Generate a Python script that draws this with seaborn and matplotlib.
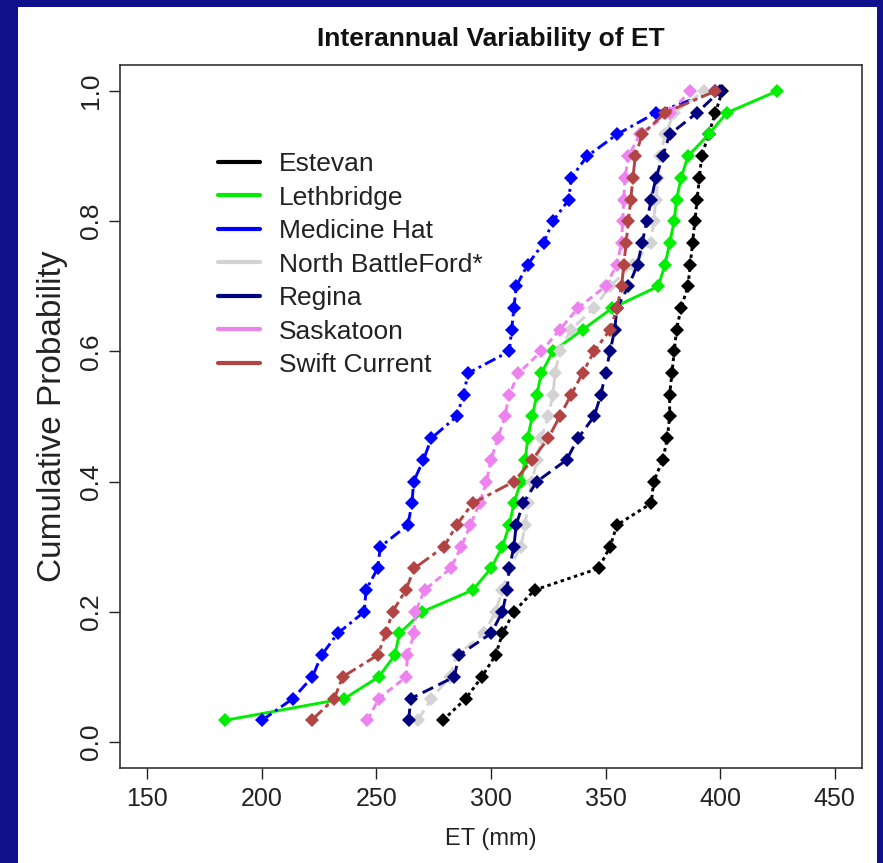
import numpy as np
import pandas as pd
import seaborn as sns
from matplotlib import pyplot as plt
from matplotlib.lines import Line2D
from matplotlib.patches import Rectangle

sns.set_theme(style='ticks')
plt.rcParams['font.family'] = ['Liberation Sans', 'DejaVu Sans']

#%% sorted annual ET (mm) per station, 30 years each
stations = ['Estevan', 'Lethbridge', 'Medicine Hat', 'North BattleFord*',
            'Regina', 'Saskatoon', 'Swift Current']

estevan = [279, 289, 296, 302, 305, 310, 319, 347, 352, 355, 370, 371, 375, 377, 378,
           378, 379, 380, 381, 383, 386, 387, 388, 389, 390, 391, 392, 395, 398, 401]
lethbridge = [184, 236, 251, 258, 260, 270, 292, 300, 305, 308, 310, 313, 315, 316, 318,
              320, 322, 327, 340, 353, 373, 376, 378, 380, 381, 383, 386, 395, 403, 425]
medicine_hat = [200, 213.5, 222, 226, 233, 244.7, 245.4, 250.5, 251.7, 263.7, 265.5, 266.2,
                270.5, 274, 285, 288, 290, 308, 309, 310, 311, 316, 323, 327, 334, 335,
                342, 355, 372, 398]
north_battleford = [268, 274, 282, 285, 297, 302, 305, 308, 313, 315, 316, 318, 320, 322, 325,
                    327, 328, 330, 335, 345, 352, 362, 370, 371, 372, 373, 374, 376, 380, 393]
regina = [264, 265, 284, 286, 300, 305, 307, 308, 310, 311, 314, 320, 333, 338, 345,
          348, 350, 352, 354, 355, 360, 364, 366, 368, 370, 372, 375, 378, 390, 400]
saskatoon = [246, 251, 263, 263.5, 266.5, 267, 271, 282.4, 287, 291, 295, 298, 300, 303, 306,
             308, 312, 322, 330, 338, 350, 355, 357, 357.5, 358, 358.5, 360, 365, 378, 387]
swift_current = [221.7, 231.6, 235.2, 250.5, 254.1, 257, 262.8, 266.5, 279.5, 285, 292, 310,
                 318, 325, 330, 335, 340, 345, 352, 355, 357, 358, 359, 360, 361, 362, 363,
                 366, 376, 398]

colors = ['black', '#00EE00', '#0000FF', '#D3D3D3', '#000080', '#EE82EE', '#B24444']
dashes = [(1.2, 1.2), '', (4, 1.5, 1, 1.5), (4, 2), (4, 2), (2.5, 1.5), (5, 1.5, 1.5, 1.5)]

series = [estevan, lethbridge, medicine_hat, north_battleford, regina, saskatoon, swift_current]
frames = []
for name, vals in zip(stations, series):
    vals = np.sort(np.asarray(vals, dtype=float))
    n = vals.size
    frames.append(pd.DataFrame({'ET': vals, 'prob': np.arange(1, n + 1) / n, 'station': name}))
df = pd.concat(frames, ignore_index=True)

#%%
fig = plt.figure(figsize=(8.83, 8.63), dpi=100)
fig.patch.set_facecolor('#10108C')
fig.patches.append(Rectangle((18 / 883, 0), (877 - 18) / 883, (863 - 7) / 863,
                             transform=fig.transFigure, facecolor='white',
                             edgecolor='none', zorder=-10))
ax = fig.add_axes([120 / 883, (863 - 768) / 863, 742 / 883, 703 / 863])
ax.set_zorder(5)

sns.lineplot(data=df, x='ET', y='prob', hue='station', style='station',
             hue_order=stations, style_order=stations,
             palette=dict(zip(stations, colors)),
             dashes=dict(zip(stations, dashes)),
             markers={s: 'D' for s in stations},
             markersize=7.5, markeredgewidth=0, linewidth=2.1,
             estimator=None, sort=True, legend=False, ax=ax)

ax.set_xlim(138, 462)
ax.set_ylim(-0.04, 1.04)
ax.set_xticks(np.arange(150, 451, 50))
ax.set_yticks(np.arange(0, 1.01, 0.2))
ax.set_yticklabels([f'{v:.1f}' for v in np.arange(0, 1.01, 0.2)], rotation=90, va='center')
ax.tick_params(axis='x', labelsize=18, length=8, width=1, colors='#222222', pad=6)
ax.tick_params(axis='y', labelsize=19, length=8, width=1, colors='#222222', pad=4)
for sp in ax.spines.values():
    sp.set_linewidth(1.2)
    sp.set_color('#333333')

ax.set_xlabel('ET (mm)', fontsize=17, labelpad=12, color='#222222')
ax.set_ylabel('Cumulative Probability', fontsize=24, labelpad=8, color='#222222')
ax.set_title('Interannual Variability of ET', fontsize=19, fontweight='bold', pad=14,
             color='#111111')

handles = [Line2D([], [], color=c, lw=3) for c in colors]
ax.legend(handles, stations, loc='upper left', bbox_to_anchor=(0.1, 0.91),
          frameon=False, fontsize=19, handlelength=1.6, handletextpad=0.7,
          labelspacing=0.36, labelcolor='#222222')

fig.savefig('out.png', dpi=100, facecolor=fig.get_facecolor())
